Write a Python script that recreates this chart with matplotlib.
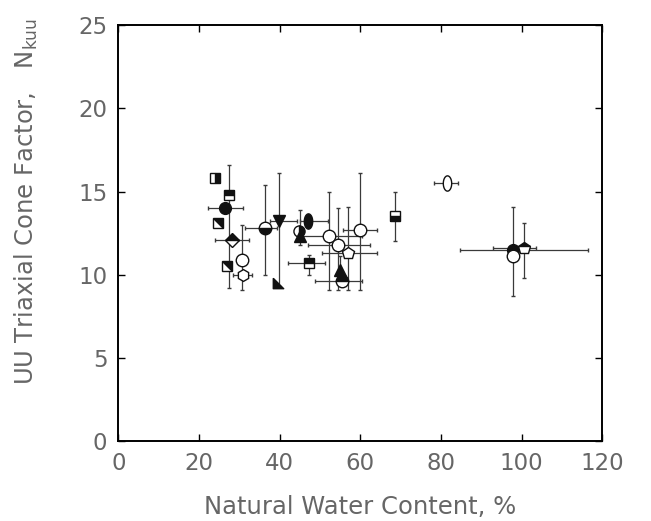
import numpy as np
import matplotlib.pyplot as plt

plt.rcParams['font.family'] = ['DejaVu Sans']
plt.rcParams['mathtext.default'] = 'regular'

# natural water content (%) and cone factor for each test series
water = [24.0, 27.5, 26.5, 24.7, 28.2, 30.7, 27.0, 30.9, 36.4, 39.9, 39.6, 44.8, 45.1,
         47.1, 47.3, 52.3, 54.5, 57.0, 60.0, 55.0, 55.5, 68.7, 81.4, 98.0, 98.0, 100.7]
nkuu = [15.8, 14.8, 14.0, 13.1, 12.1, 10.9, 10.5, 10.0, 12.8, 13.2, 9.5, 12.6, 12.3,
        13.2, 10.7, 12.3, 11.8, 11.3, 12.7, 10.3, 9.6, 13.5, 15.5, 11.5, 11.1, 11.6]
# (min, max) range bars, None where there is no bar
water_range = [None, None, (22.3, 31.0), None, (24.0, 32.3), None, None, (28.4, 33.2),
               (31.4, 39.4), (37.6, 44.3), None, None, None, (45.1, 52.0), (42.1, 51.3),
               (44.6, 60.5), (47.1, 62.5), (50.6, 64.2), (55.8, 64.2), None, (48.8, 60.5),
               None, (78.4, 84.3), (84.8, 116.4), None, (92.8, 103.5)]
nkuu_range = [None, (9.2, 16.6), None, None, None, (9.1, 13.0), None, None,
              (10.0, 15.4), (9.3, 16.1), None, None, (11.8, 13.9), None, (10.0, 11.2),
              (9.1, 15.0), (9.1, 14.0), (9.1, 14.1), (9.1, 16.1), (9.6, 11.1), None,
              (12.05, 15.0), None, (8.7, 14.1), None, (9.8, 13.1)]

# symbol for each series
symbols = ['sq_right', 'sq_top', 'circ_full', 'sq_diag', 'dia_top', 'circ_open', 'sq_diag',
           'hex_open', 'circ_bottom', 'tri_down', 'corner', 'circ_right', 'tri_up',
           'ell_full', 'sq_top', 'circ_open', 'circ_open', 'pent_open', 'circ_open',
           'tri_up', 'circ_top', 'sq_bottom', 'ell_open', 'circ_full', 'circ_open', 'pent_top']

t = np.linspace(0, 2 * np.pi, 40)
ellipse = list(zip(0.55 * np.cos(t), np.sin(t)))
corner = [(-1, 1), (-1, -1), (1, -1), (-1, 1)]
upper_right = [(-1, 1), (1, 1), (1, -1), (-1, 1)]

# layers: (marker, fillstyle, size)
layers = {
    'sq_right': [('s', 'right', 7.5)],
    'sq_top': [('s', 'top', 7.5)],
    'sq_bottom': [('s', 'bottom', 7.5)],
    'sq_diag': [('s', 'none', 7.5), (upper_right, 'full', 6.5)],
    'dia_top': [('D', 'top', 7)],
    'circ_full': [('o', 'full', 8.5)],
    'circ_open': [('o', 'none', 9)],
    'circ_bottom': [('o', 'bottom', 9)],
    'circ_top': [('o', 'top', 9)],
    'circ_right': [('o', 'right', 8)],
    'hex_open': [('h', 'none', 8.5)],
    'pent_open': [('p', 'none', 9)],
    'pent_top': [('p', 'top', 9)],
    'tri_down': [('v', 'full', 8)],
    'tri_up': [('^', 'full', 8)],
    'corner': [(corner, 'full', 7.5)],
    'ell_full': [(ellipse, 'full', 11)],
    'ell_open': [(ellipse, 'none', 11)],
}

fig, ax = plt.subplots(figsize=(6.51, 5.21), dpi=100)
fig.subplots_adjust(left=0.182, right=0.925, bottom=0.153, top=0.952)

bar_col = '#3a3a3a'
for i in range(len(water)):
    xr = water_range[i]
    yr = nkuu_range[i]
    if xr is not None:
        ax.errorbar(water[i], nkuu[i], xerr=[[water[i] - xr[0]], [xr[1] - water[i]]],
                    fmt='none', ecolor=bar_col, elinewidth=0.9, capsize=1.2, zorder=1)
    if yr is not None:
        ax.errorbar(water[i], nkuu[i], yerr=[[nkuu[i] - yr[0]], [yr[1] - nkuu[i]]],
                    fmt='none', ecolor=bar_col, elinewidth=0.9, capsize=1.2, zorder=1)

for i in range(len(water)):
    for mk, fs, ms in layers[symbols[i]]:
        if fs == 'none':
            ax.plot(water[i], nkuu[i], marker=mk, ms=ms, mfc='white', mec='#111111',
                    mew=1.0, ls='none', zorder=3)
        else:
            ax.plot(water[i], nkuu[i], marker=mk, ms=ms, fillstyle=fs, mfc='#111111',
                    mfcalt='white', mec='#111111', mew=1.0, ls='none', zorder=3)

ax.set_xlim(0, 120)
ax.set_ylim(0, 25)
ax.set_xticks([0, 20, 40, 60, 80, 100, 120])
ax.set_yticks([0, 5, 10, 15, 20, 25])
ax.tick_params(direction='in', length=5, width=1, top=True, right=True,
               labelsize=16.5, labelcolor='#666666', pad=8)
for s in ax.spines.values():
    s.set_linewidth(1.4)

ax.set_xlabel('Natural Water Content, %', fontsize=17.5, color='#666666', labelpad=14)
ax.set_ylabel('UU Triaxial Cone Factor,   N$_{kuu}$', fontsize=17.5, color='#666666')
ax.yaxis.set_label_coords(-0.162, 0.575)

plt.savefig('out.png', dpi=100)
